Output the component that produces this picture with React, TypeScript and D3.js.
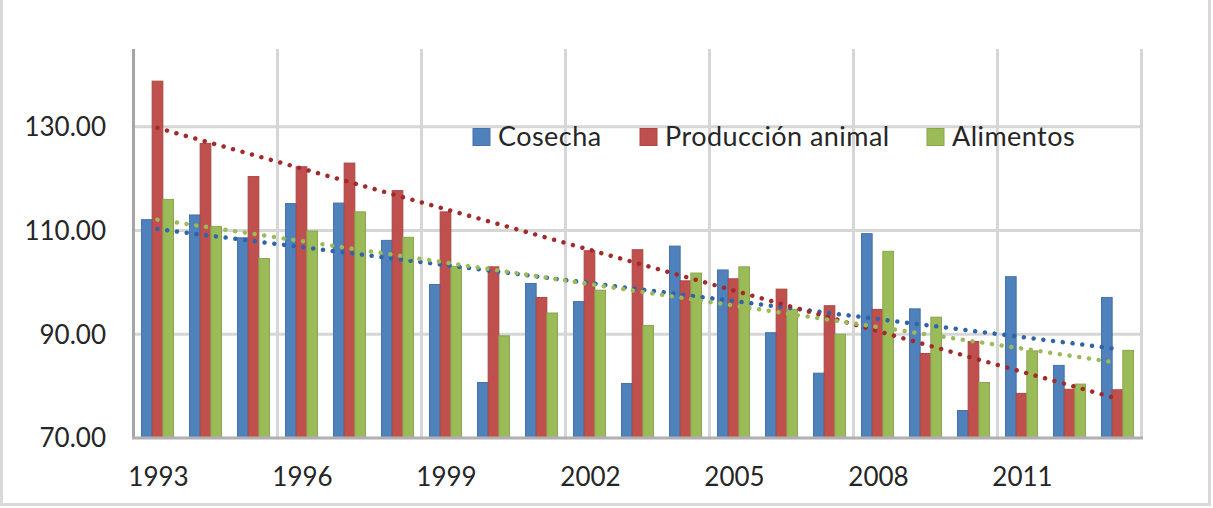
import React, { useRef, useEffect } from 'react';
import * as d3 from 'd3';

const years = d3.range(1993, 2014).map(String);
const seriesNames = ['Cosecha', 'Producción animal', 'Alimentos'];
const cosecha = [112.1, 113.0, 108.6, 115.2, 115.3, 108.1, 99.6, 80.7, 99.8, 96.3, 80.5, 107.0, 102.4, 90.3, 82.5, 109.4, 94.9, 75.3, 101.1, 84.0, 97.1];
const produccionAnimal = [138.8, 126.8, 120.4, 122.3, 123.0, 117.7, 113.6, 103.0, 97.1, 106.1, 106.3, 100.3, 100.7, 98.7, 95.5, 94.8, 86.3, 88.6, 78.6, 79.4, 79.3];
const alimentos = [116.0, 110.8, 104.6, 109.9, 113.6, 108.7, 103.1, 89.7, 94.1, 98.5, 91.7, 101.8, 103.0, 94.8, 90.0, 106.0, 93.3, 80.7, 86.8, 80.4, 86.9];
const yTicks = [70, 90, 110, 130];
const xLabelYears = ['1993', '1996', '1999', '2002', '2005', '2008', '2011'];

const barColors = ['#4f81bd', '#c0504d', '#9bbb59'];
const trendColors = ['#2f64a9', '#a22a2a', '#9bbb59'];

const W = 1213;
const H = 508;
const plot = { left: 133.5, right: 1141.5, top: 49, bottom: 438 };

type D3Selection = d3.Selection<SVGSVGElement, unknown, null, undefined>;

function drawChart(svg: D3Selection) {
  svg.selectAll('*').remove();
  const values = [cosecha, produccionAnimal, alimentos];

  const x = d3.scaleBand<string>().domain(years).range([plot.left, plot.right]).padding(0);
  const xSub = d3
    .scaleBand<string>()
    .domain(seriesNames)
    .range([0, x.bandwidth()])
    .paddingInner(0)
    .paddingOuter(0.75);
  const y = d3.scaleLinear().domain([70, 145]).range([plot.bottom, plot.top]);

  // marco
  const frame = svg.append('g').attr('stroke', '#d9d9d9').attr('stroke-width', 3);
  frame.append('line').attr('x1', 1.5).attr('x2', 1.5).attr('y1', 0).attr('y2', 506);
  frame.append('line').attr('x1', 1209.5).attr('x2', 1209.5).attr('y1', 0).attr('y2', 506);
  frame.append('line').attr('x1', 0).attr('x2', 1211).attr('y1', 504.5).attr('y2', 504.5);

  // rejilla
  const grid = svg.append('g').attr('stroke', '#d6d6d6').attr('stroke-width', 3);
  grid
    .selectAll('line.h')
    .data(yTicks.filter((d) => d > 70))
    .join('line')
    .attr('x1', plot.left)
    .attr('x2', plot.right)
    .attr('y1', (d) => y(d))
    .attr('y2', (d) => y(d));
  const vIdx = d3.range(3, years.length + 1, 3);
  grid
    .selectAll('line.v')
    .data(vIdx)
    .join('line')
    .attr('x1', (i) => plot.left + i * x.step())
    .attr('x2', (i) => plot.left + i * x.step())
    .attr('y1', plot.top)
    .attr('y2', plot.bottom);

  // barras
  seriesNames.forEach((name, si) => {
    const col = barColors[si];
    svg
      .append('g')
      .selectAll('rect')
      .data(values[si])
      .join('rect')
      .attr('x', (_, i) => (x(years[i]) as number) + (xSub(name) as number))
      .attr('y', (d) => y(d))
      .attr('width', xSub.bandwidth())
      .attr('height', (d) => y(70) - y(d))
      .attr('fill', col)
      .attr('stroke', d3.color(col)!.darker(0.35).toString())
      .attr('stroke-width', 1);
  });

  // ejes
  svg
    .append('line')
    .attr('x1', plot.left)
    .attr('x2', plot.left)
    .attr('y1', plot.top)
    .attr('y2', plot.bottom)
    .attr('stroke', '#a6a6a6')
    .attr('stroke-width', 3);
  svg
    .append('line')
    .attr('x1', plot.left - 1.5)
    .attr('x2', plot.right + 1.5)
    .attr('y1', plot.bottom)
    .attr('y2', plot.bottom)
    .attr('stroke', '#b0b0b0')
    .attr('stroke-width', 3);

  // líneas de tendencia (regresión lineal)
  values.forEach((vals, si) => {
    const n = vals.length;
    const xs = d3.range(n);
    const mx = d3.mean(xs)!;
    const my = d3.mean(vals)!;
    const slope =
      d3.sum(xs, (xi, k) => (xi - mx) * (vals[k] - my)) / d3.sum(xs, (xi) => (xi - mx) ** 2);
    const b = my - slope * mx;
    const cx = (i: number) => (x(years[i]) as number) + x.bandwidth() / 2;
    svg
      .append('line')
      .attr('x1', cx(0))
      .attr('y1', y(b))
      .attr('x2', cx(n - 1))
      .attr('y2', y(b + slope * (n - 1)))
      .attr('stroke', trendColors[si])
      .attr('stroke-width', 4.5)
      .attr('stroke-linecap', 'round')
      .attr('stroke-dasharray', '0.01 9.8');
  });

  const font = 'Lato, "Open Sans", sans-serif';

  // etiquetas eje Y
  svg
    .append('g')
    .selectAll('text')
    .data(yTicks)
    .join('text')
    .attr('x', 106)
    .attr('y', (d) => y(d))
    .attr('dy', '0.36em')
    .attr('text-anchor', 'end')
    .attr('font-family', font)
    .attr('font-size', 26)
    .attr('fill', '#262626')
    .text((d) => d3.format('.2f')(d));

  // etiquetas eje X
  svg
    .append('g')
    .selectAll('text')
    .data(xLabelYears)
    .join('text')
    .attr('x', (d) => (x(d) as number) + x.bandwidth() / 2 + 1)
    .attr('y', 486)
    .attr('text-anchor', 'middle')
    .attr('font-family', font)
    .attr('font-size', 26)
    .attr('fill', '#262626')
    .text((d) => d);

  // leyenda
  const legendX = [473, 640, 927];
  const lg = svg.append('g');
  seriesNames.forEach((name, si) => {
    lg.append('rect')
      .attr('x', legendX[si])
      .attr('y', 128.5)
      .attr('width', 17)
      .attr('height', 17)
      .attr('fill', barColors[si])
      .attr('stroke', d3.color(barColors[si])!.darker(0.35).toString())
      .attr('stroke-width', 1);
    lg.append('text')
      .attr('x', legendX[si] + 25)
      .attr('y', 146)
      .attr('font-family', font)
      .attr('font-size', 27)
      .attr('letter-spacing', 0.45)
      .attr('fill', '#262626')
      .text(name);
  });
}

export default function App() {
  const ref = useRef<SVGSVGElement>(null);

  useEffect(() => {
    if (ref.current) {
      drawChart(d3.select(ref.current));
    }
  }, []);

  return (
    <svg
      ref={ref}
      width={W}
      height={H}
      viewBox={`0 0 ${W} ${H}`}
      style={{ position: 'absolute', left: 0, top: 0, background: '#fff' }}
    />
  );
}
